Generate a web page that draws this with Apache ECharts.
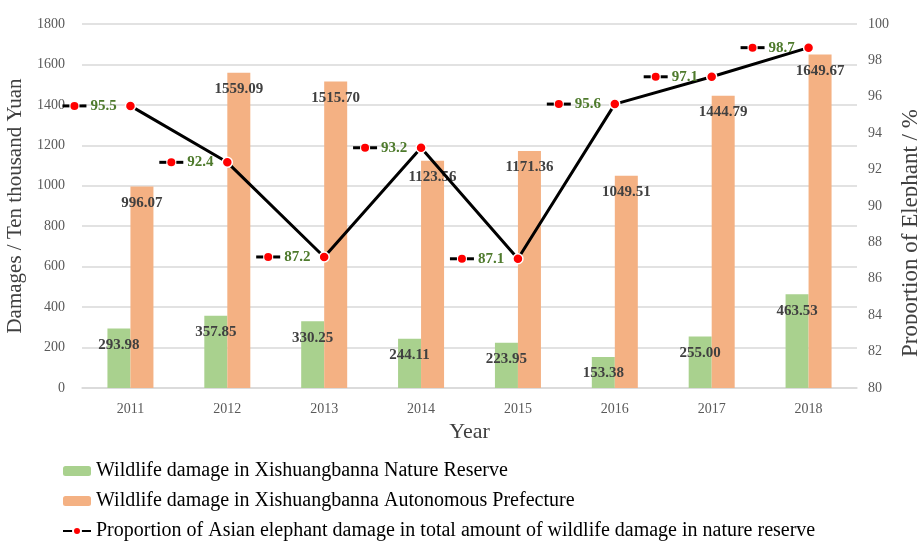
<!DOCTYPE html>
<html>
<head>
<meta charset="utf-8">
<script src="https://cdn.jsdelivr.net/npm/echarts@6/dist/echarts.min.js"></script>
<style>
  html, body { margin: 0; padding: 0; background: #fff; }
  #chart { width: 917px; height: 543px; }
</style>
</head>
<body>
<div id="chart"></div>
<script>
const years = ["2011", "2012", "2013", "2014", "2015", "2016", "2017", "2018"];
const reserveDamage = [293.98, 357.85, 330.25, 244.11, 223.95, 153.38, 255.0, 463.53];
const prefectureDamage = [996.07, 1559.09, 1515.7, 1123.56, 1171.36, 1049.51, 1444.79, 1649.67];
const elephantShare = [95.5, 92.4, 87.2, 93.2, 87.1, 95.6, 97.1, 98.7];

const serif = "Liberation Serif";

const chart = echarts.init(document.getElementById("chart"));

const barLabel = {
  show: true,
  position: "insideTop",
  distance: 9,
  fontFamily: serif,
  fontWeight: "bold",
  fontSize: 15,
  color: "#404040",
  formatter: (p) => p.value.toFixed(2),
};

chart.setOption({
  animation: false,
  textStyle: { fontFamily: serif },
  grid: { left: 82, right: 60, top: 24, bottom: 155, outerBoundsMode: "none" },
  legend: {
    orient: "vertical",
    left: 62,
    top: 461,
    padding: 0,
    itemWidth: 28,
    itemHeight: 10,
    itemGap: 10,
    textStyle: { fontFamily: serif, fontSize: 20, color: "#000" },
    data: [
      "Wildlife damage in Xishuangbanna Nature Reserve",
      "Wildlife damage in Xishuangbanna Autonomous Prefecture",
      "Proportion of Asian elephant damage in total amount of wildlife damage in nature reserve",
    ],
  },
  xAxis: {
    type: "category",
    data: years,
    name: "Year",
    nameLocation: "middle",
    nameGap: 33,
    nameTextStyle: { fontFamily: serif, fontSize: 22, color: "#404040" },
    axisLine: { lineStyle: { color: "#d9d9d9", width: 1.5 } },
    axisTick: { show: false },
    axisLabel: { fontFamily: serif, fontSize: 14, color: "#595959", margin: 14 },
  },
  yAxis: [
    {
      type: "value",
      min: 0,
      max: 1800,
      interval: 200,
      name: "Damages / Ten thousand Yuan",
      nameLocation: "middle",
      nameGap: 50,
      nameTextStyle: { fontFamily: serif, fontSize: 21, color: "#404040" },
      axisLine: { show: false },
      axisTick: { show: false },
      axisLabel: {
        fontFamily: serif,
        fontSize: 14,
        color: "#595959",
        margin: 17,
        formatter: (v) => String(v),
      },
      splitLine: { lineStyle: { color: "#d9d9d9", width: 1.5 } },
    },
    {
      type: "value",
      min: 80,
      max: 100,
      interval: 2,
      name: "Proportion of Elephant / %",
      nameLocation: "middle",
      nameGap: 42,
      nameRotate: 90,
      nameTextStyle: {
        fontFamily: serif,
        fontSize: 23,
        color: "#404040",
        padding: [0, 54, 0, 0],
      },
      axisLine: { show: false },
      axisTick: { show: false },
      axisLabel: { fontFamily: serif, fontSize: 14, color: "#595959", margin: 11 },
      splitLine: { show: false },
    },
  ],
  series: [
    {
      name: "Wildlife damage in Xishuangbanna Nature Reserve",
      type: "bar",
      data: reserveDamage,
      barWidth: 23,
      barGap: "0%",
      itemStyle: { color: "#a9d18e" },
      label: barLabel,
      z: 2,
    },
    {
      name: "Wildlife damage in Xishuangbanna Autonomous Prefecture",
      type: "bar",
      data: prefectureDamage,
      barWidth: 23,
      barGap: "0%",
      itemStyle: { color: "#f4b183" },
      label: barLabel,
      z: 2,
    },
    {
      name: "Proportion of Asian elephant damage in total amount of wildlife damage in nature reserve",
      type: "line",
      yAxisIndex: 1,
      data: elephantShare,
      symbol: "circle",
      symbolSize: 10,
      lineStyle: { color: "#000", width: 3 },
      itemStyle: { color: "#ff0000", borderColor: "#fff", borderWidth: 1.5 },
      z: 5,
      label: {
        show: true,
        position: "left",
        distance: 8,
        formatter: (p) => "{d| }{g| }{r| }{g| }{d| }{v|" + p.value.toFixed(1) + "}",
        rich: {
          d: { width: 7, height: 3, backgroundColor: "#000" },
          g: { width: 1, height: 3 },
          r: { width: 8, height: 8, borderRadius: 4, backgroundColor: "#ff0000" },
          v: {
            fontFamily: serif,
            fontWeight: "bold",
            fontSize: 15,
            color: "#4e7a2c",
            padding: [0, 0, 0, 4],
          },
        },
      },
    },
  ],
});
</script>
</body>
</html>
